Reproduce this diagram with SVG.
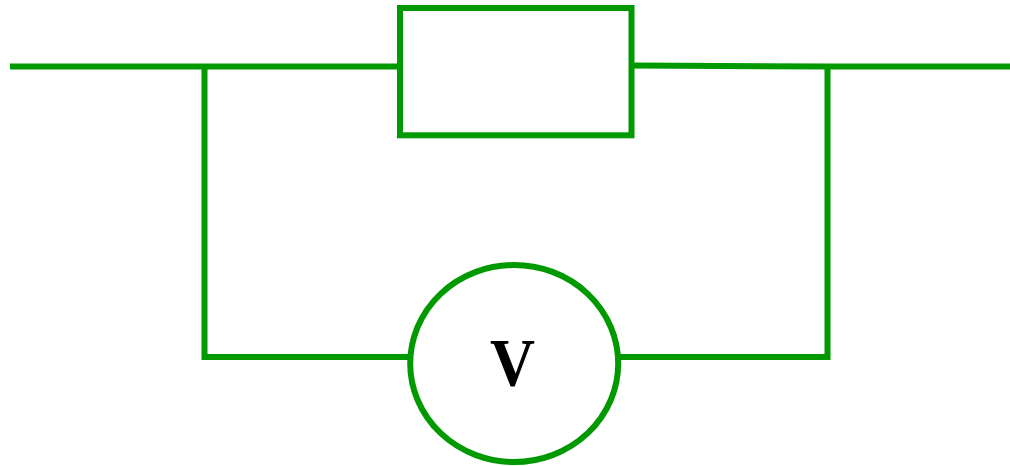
<svg xmlns="http://www.w3.org/2000/svg" width="1010" height="466" viewBox="0 0 1010 466">
<style>
.w{fill:none;stroke:#009900;stroke-width:6}
.t{font-family:"Liberation Serif",serif;font-weight:bold;font-size:67px;fill:#000}
</style>
<rect width="1010" height="466" fill="#fff"/>
<g id="connectors">
<path class="w" d="M10 66.500H400"/>
<path class="w" d="M632 65.500L828 66.500H1010"/>
<path class="w" d="M204.500 64V357H411"/>
<path class="w" d="M827.500 64V357H618"/>
</g>
<g id="resistor"><rect class="w" x="400" y="8" width="231.500" height="127.300"/></g>
<g id="voltmeter">
<ellipse class="w" cx="514.200" cy="363.500" rx="104" ry="98.500"/>
<text class="t" x="490" y="385" textLength="45" lengthAdjust="spacingAndGlyphs">V</text>
</g>
</svg>
